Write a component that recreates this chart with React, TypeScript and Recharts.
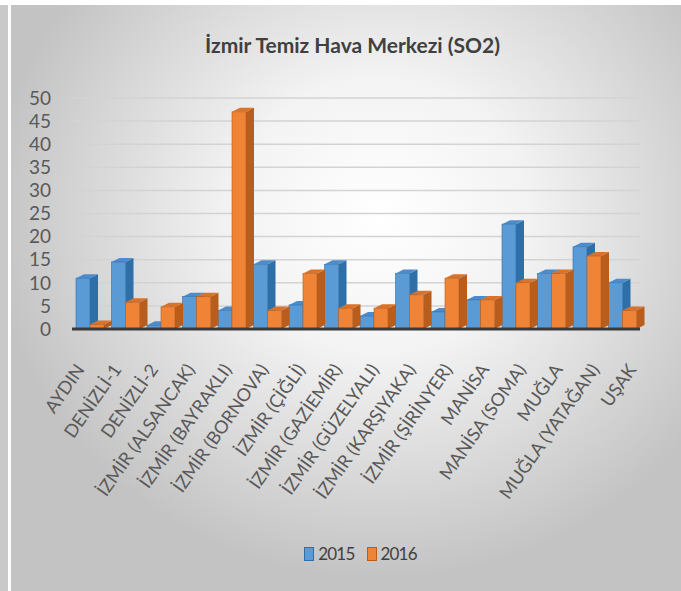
import { BarChart, Bar, XAxis, YAxis, CartesianGrid } from 'recharts';

const stations = [
  'AYDIN', 'DENİZLİ-1', 'DENİZLİ-2', 'İZMİR (ALSANCAK)', 'İZMİR (BAYRAKLI)', 'İZMİR (BORNOVA)',
  'İZMİR (ÇİĞLİ)', 'İZMİR (GAZİEMİR)', 'İZMİR (GÜZELYALI)', 'İZMİR (KARŞIYAKA)', 'İZMİR (ŞİRİNYER)',
  'MANİSA', 'MANİSA (SOMA)', 'MUĞLA', 'MUĞLA (YATAĞAN)', 'UŞAK',
];
const so2_2015 = [11, 14.5, 0.8, 7, 4, 14, 5.2, 14, 2.8, 12, 3.7, 6.3, 22.7, 12, 17.8, 10];
const so2_2016 = [1, 5.8, 4.8, 7, 47, 4, 12, 4.5, 4.5, 7.4, 11, 6.3, 10, 12, 15.8, 4];
const yTicks = [0, 5, 10, 15, 20, 25, 30, 35, 40, 45, 50];

const data = stations.map((name, i) => ({ name, y2015: so2_2015[i], y2016: so2_2016[i] }));

const FONT = "Lato, 'Open Sans', sans-serif";

// fake 3d column: front face, darker side, lighter top
const make3D = (front: string, side: string, top: string) => (props: any) => {
  const { x, y, width, height } = props;
  if (height == null || height <= 0) return <g />;
  const dx = 8, dy = 4;
  return (
    <g>
      <polygon points={`${x + width},${y} ${x + width + dx},${y - dy} ${x + width + dx},${y + height - dy} ${x + width},${y + height}`} fill={side} />
      <polygon points={`${x},${y} ${x + dx},${y - dy} ${x + width + dx},${y - dy} ${x + width},${y}`} fill={top} />
      <rect x={x} y={y} width={width} height={height} fill={front} stroke={side} strokeWidth={0.6} />
    </g>
  );
};

const blueShape = make3D('#5b9bd5', '#2f6fa8', '#4a8ccc');
const orangeShape = make3D('#f08436', '#b85d1c', '#d9722a');

// labels fan out a little wider than the columns (3d perspective in the original)
const XTick = (props: any) => {
  const { x, y, payload, index } = props;
  const ax = x - 8 + 1.27 * index;
  const ay = y + 30;
  return (
    <text
      x={ax}
      y={ay}
      transform={`rotate(-55 ${ax} ${ay})`}
      textAnchor="end"
      dominantBaseline="middle"
      fontSize={18}
      fontFamily={FONT}
      fill="#595959"
    >
      {payload.value}
    </text>
  );
};

export default function App() {
  return (
    <div style={{ position: 'absolute', left: 0, top: 0, width: 681, height: 591, background: '#ffffff', overflow: 'hidden' }}>
      <div style={{ position: 'absolute', left: 0, top: 5, width: 8, height: 586, background: '#c9c9c9' }} />
      <div
        style={{
          position: 'absolute', left: 11, top: 5, width: 670, height: 586,
          background: 'radial-gradient(ellipse 58% 62% at 55% 36%, #ffffff 0%, #f3f3f3 38%, #d4d4d4 78%, #c3c3c3 100%)',
        }}
      />
      <div
        style={{
          position: 'absolute', left: 0, width: 681, top: 32, textAlign: 'center', paddingLeft: 12,
          fontFamily: FONT, fontWeight: 'bold', fontSize: 21, color: '#404040',
        }}
      >
        İzmir Temiz Hava Merkezi (SO2)
      </div>
      <div style={{ position: 'absolute', left: 0, top: 0 }}>
        <BarChart width={681} height={591} data={data} margin={{ top: 98, right: 41, bottom: 60, left: 0 }} barGap={0} barCategoryGap={4}>
          <CartesianGrid horizontal vertical={false} stroke="#d3d3d3" strokeWidth={1.5} />
          <XAxis
            dataKey="name"
            interval={0}
            height={202}
            tickLine={false}
            axisLine={{ stroke: '#3a3a3a', strokeWidth: 3 }}
            tick={<XTick />}
          />
          <YAxis
            domain={[0, 50]}
            ticks={yTicks}
            interval={0}
            width={72}
            axisLine={false}
            tickLine={false}
            tickSize={0}
            tickMargin={21}
            tick={{ fontSize: 19, fill: '#595959', fontFamily: FONT }}
          />
          <Bar dataKey="y2015" shape={blueShape} isAnimationActive={false} />
          <Bar dataKey="y2016" shape={orangeShape} isAnimationActive={false} />
        </BarChart>
      </div>
      <div style={{ position: 'absolute', top: 543, left: 0, width: 681, display: 'flex', justifyContent: 'center', paddingLeft: 20, fontFamily: FONT, fontSize: 17, letterSpacing: -0.8, color: '#404040', alignItems: 'center' }}>
        <span style={{ display: 'inline-block', width: 8, height: 12, background: '#5b9bd5', border: '1px solid #2f6fa8', marginRight: 4 }} />
        <span style={{ marginRight: 12 }}>2015</span>
        <span style={{ display: 'inline-block', width: 8, height: 12, background: '#f08436', border: '1px solid #b85d1c', marginRight: 4 }} />
        <span>2016</span>
      </div>
    </div>
  );
}
